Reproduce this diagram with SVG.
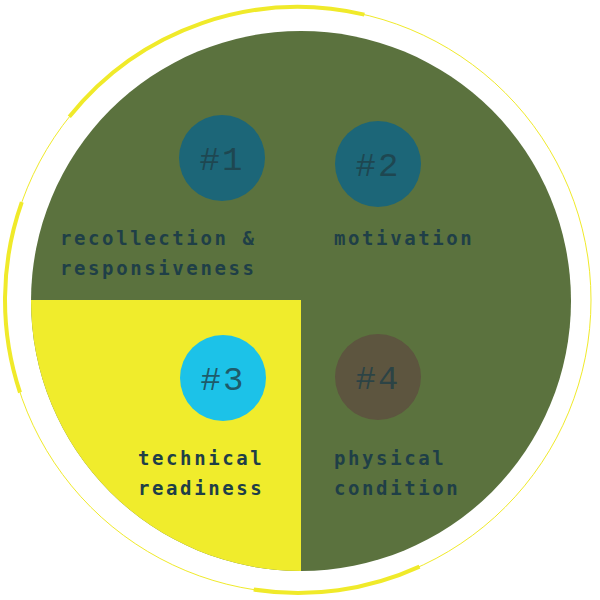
<svg xmlns="http://www.w3.org/2000/svg" width="600" height="600" viewBox="0 0 600 600">
<style>
.ring{fill:none;stroke:#f0ea2a}
.lbl{font-family:"DejaVu Sans Mono",monospace;font-size:19px;font-weight:bold;letter-spacing:2.6px;fill:#1f3f47}
.num{font-family:"Liberation Mono",monospace;font-size:34px;letter-spacing:2px;fill:#1f3f47;fill-opacity:0.8;text-anchor:middle}
</style>
<defs><clipPath id="c"><circle cx="301" cy="301" r="270"/></clipPath></defs>
<rect width="600" height="600" fill="#fff"/>
<g id="ring">
<circle class="ring" cx="298" cy="300" r="293" stroke-width="1"/>
<path class="ring" stroke-width="4" d="M69.3,116.8 A293,293 0 0 1 364.4,14.6"/>
<path class="ring" stroke-width="4" d="M20,392.5 A293,293 0 0 1 21.8,202.2"/>
<path class="ring" stroke-width="4" d="M419.5,566.6 A293,293 0 0 1 253.7,589.6"/>
</g>
<g id="disc">
<circle cx="301" cy="301" r="270" fill="#5b723e"/>
<rect x="0" y="300" width="301" height="300" fill="#f0ec2c" clip-path="url(#c)"/>
</g>
<g id="n1"><circle cx="222" cy="158" r="43" fill="#1c6678"/><text class="num" x="222" y="170">#1</text>
<text class="lbl" x="60" y="245">recollection &amp;</text><text class="lbl" x="60" y="275">responsiveness</text></g>
<g id="n2"><circle cx="378" cy="164" r="43" fill="#1c6678"/><text class="num" x="378" y="176">#2</text>
<text class="lbl" x="334" y="245">motivation</text></g>
<g id="n3"><circle cx="223" cy="378" r="43" fill="#1cc2e8"/><text class="num" x="223" y="390">#3</text>
<text class="lbl" x="138" y="465">technical</text><text class="lbl" x="138" y="495">readiness</text></g>
<g id="n4"><circle cx="378" cy="377" r="43" fill="#5d553f"/><text class="num" x="378" y="389">#4</text>
<text class="lbl" x="334" y="465">physical</text><text class="lbl" x="334" y="495">condition</text></g>
<g id="connectors"/>
</svg>
